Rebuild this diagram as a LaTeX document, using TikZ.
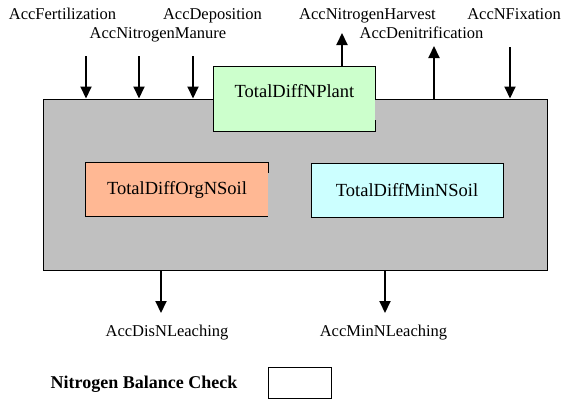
\documentclass[tikz,border=0pt]{standalone}
\usepackage{fontspec}
\setmainfont{Liberation Serif}
\newfontfamily\timesfont{Liberation Serif}
\usetikzlibrary{arrows.meta,positioning}
\definecolor{soilgray}{RGB}{192,192,192}
\definecolor{plantgreen}{RGB}{204,255,204}
\definecolor{orgorange}{RGB}{255,184,148}
\definecolor{mincyan}{RGB}{204,255,255}
\begin{document}
\begin{tikzpicture}[x=1pt,y=-1pt,>={Triangle[length=12pt,width=11pt]},
	flux/.style={font=\timesfont\fontsize{16.5}{19}\selectfont,inner sep=0pt,anchor=base},
	pool/.style={font=\timesfont\fontsize{18.5}{21}\selectfont,inner sep=0pt},
	flow/.style={->,line width=2pt}]
		\useasboundingbox (0,0) rectangle (576,407);
		% pools
		\node[draw,line width=1pt,fill=soilgray,minimum width=504pt,minimum height=171pt,inner sep=0pt] (soil) at (295,184.5) {};
		\node[pool,fill=plantgreen,minimum width=161pt,minimum height=64pt,text height=13pt,text depth=16pt] (plant) at (294.5,99) {TotalDiffNPlant};
		\draw[line width=1pt] (plant.east) -- (plant.north east) -- (plant.north west) -- (plant.south west) -- (plant.south east) -- ++(0,-11);
		\node[pool,fill=orgorange,minimum width=182pt,minimum height=53pt] (orgN) at (177,189.5) {TotalDiffOrgNSoil};
		\draw[line width=1pt] (orgN.north east) ++(0,10) -- (orgN.north east) -- (orgN.north west) -- (orgN.south west) -- (orgN.south east);
		\node[pool,draw,line width=1pt,fill=mincyan,minimum width=192pt,minimum height=54pt] (minN) at (407,190) {TotalDiffMinNSoil};
		% fluxes
		\node[flux] (fert) at (62.5,19.5) {AccFertilization};
		\node[flux] (depo) at (212.5,19.5) {AccDeposition};
		\node[flux] (manure) at (158,38) {AccNitrogenManure};
		\node[flux] (harvest) at (367.5,19.5) {AccNitrogenHarvest};
		\node[flux] (denit) at (421.5,38) {AccDenitrification};
		\node[flux] (fix) at (514,19.5) {AccNFixation};
		\node[flux] (disLeach) at (167,336) {AccDisNLeaching};
		\node[flux] (minLeach) at (383.5,336) {AccMinNLeaching};
		\coordinate (fertIn) at (86,56);
		\coordinate (manureIn) at (139,56);
		\coordinate (depoIn) at (193,56);
		\coordinate (harvestOut) at (342,33);
		\coordinate (denitOut) at (434,46);
		\coordinate (fixIn) at (510,47);
		\coordinate (disOut) at (161,313);
		\coordinate (minOut) at (385,313);
		\draw[flow] (fertIn) -- (fertIn |- soil.north);
		\draw[flow] (manureIn) -- (manureIn |- soil.north);
		\draw[flow] (depoIn) -- (depoIn |- soil.north);
		\draw[flow] (harvestOut |- plant.north) -- (harvestOut);
		\draw[flow] (denitOut |- soil.north) -- (denitOut);
		\draw[flow] (fixIn) -- (fixIn |- soil.north);
		\draw[flow] (disOut |- soil.south) -- (disOut);
		\draw[flow] (minOut |- soil.south) -- (minOut);
		% check
		\node[font=\timesfont\bfseries\fontsize{18}{21}\selectfont,inner sep=0pt,anchor=base] (checkLabel) at (144,388) {Nitrogen Balance Check};
		\node[draw,line width=1pt,minimum width=63pt,minimum height=31pt,inner sep=0pt] (check) at (299.5,382.5) {};
	\end{tikzpicture}
\end{document}
